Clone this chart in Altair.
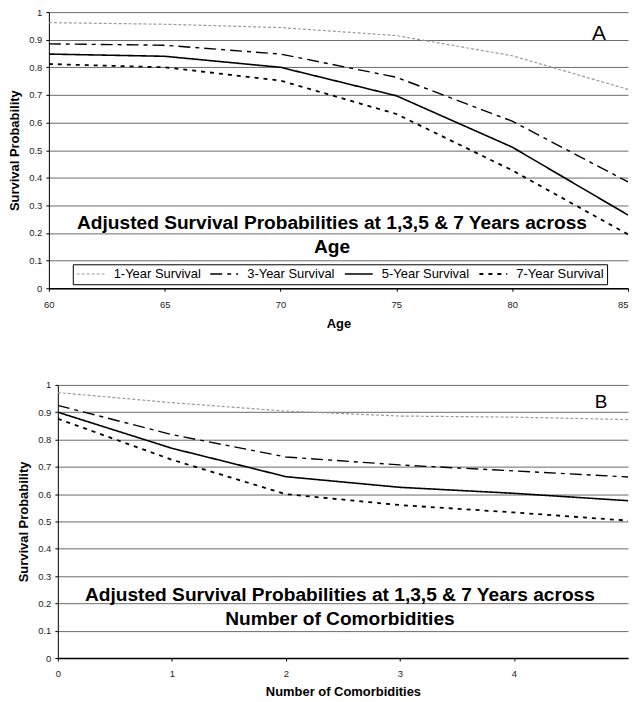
import altair as alt
import pandas as pd

series = ["1-Year Survival", "3-Year Survival", "5-Year Survival", "7-Year Survival"]

ages = [60, 65, 70, 75, 80, 85]
age_1yr = [0.962, 0.956, 0.944, 0.915, 0.842, 0.720]
age_3yr = [0.885, 0.880, 0.848, 0.764, 0.605, 0.385]
age_5yr = [0.848, 0.840, 0.800, 0.697, 0.511, 0.265]
age_7yr = [0.812, 0.800, 0.752, 0.631, 0.427, 0.195]

comorb = [0, 1, 2, 3, 4, 5]
com_1yr = [0.972, 0.935, 0.904, 0.886, 0.882, 0.873]
com_3yr = [0.925, 0.818, 0.736, 0.707, 0.685, 0.663]
com_5yr = [0.900, 0.768, 0.664, 0.625, 0.603, 0.576]
com_7yr = [0.876, 0.726, 0.600, 0.560, 0.533, 0.503]

y_ticks = [0, 0.1, 0.2, 0.3, 0.4, 0.5, 0.6, 0.7, 0.8, 0.9, 1]
age_ticks = [60, 65, 70, 75, 80, 85]
com_ticks = [0, 1, 2, 3, 4]

title_a = ["Adjusted Survival Probabilities at 1,3,5 & 7 Years across", "Age"]
title_b = ["Adjusted Survival Probabilities at 1,3,5 & 7 Years across", "Number of Comorbidities"]

colors = ["#9a9a9a", "#000000", "#000000", "#000000"]
dashes = [[3, 2], [12, 5, 4, 5], [1, 0], [4, 5]]
widths = [1.2, 1.8, 1.6, 2.0]

FONT = "Liberation Sans"


def long_df(xs, ys_list):
    rows = []
    for s, ys in zip(series, ys_list):
        for x, y in zip(xs, ys):
            rows.append({"x": x, "p": y, "series": s})
    return pd.DataFrame(rows)


df_a = long_df(ages, [age_1yr, age_3yr, age_5yr, age_7yr])
df_b = long_df(comorb, [com_1yr, com_3yr, com_5yr, com_7yr])


def panel(df, xtitle, xdomain, xticks, w, h, letter, letter_x, letter_y, letter_size,
          tlines, t_x, t_y1, t_y2, leg_y, x_title_pad):
    leg = alt.Legend(title=None, orient="none", legendX=24, legendY=leg_y,
                     direction="horizontal")
    last = xdomain[1]
    lines = alt.Chart(df).mark_line(clip=True).encode(
        x=alt.X("x:Q", scale=alt.Scale(domain=xdomain, nice=False, zero=False),
                axis=alt.Axis(values=xticks, title=xtitle, grid=False,
                              titlePadding=x_title_pad,
                              labelAlign={"condition": {"test": f"datum.value >= {last}",
                                                        "value": "right"},
                                          "value": "center"})),
        y=alt.Y("p:Q", scale=alt.Scale(domain=[0, 1], nice=False),
                axis=alt.Axis(values=y_ticks, format=".1~f",
                              title="Survival Probability", grid=True)),
        color=alt.Color("series:N", scale=alt.Scale(domain=series, range=colors),
                        legend=leg),
        strokeDash=alt.StrokeDash("series:N", scale=alt.Scale(domain=series, range=dashes),
                                  legend=leg),
        strokeWidth=alt.StrokeWidth("series:N", scale=alt.Scale(domain=series, range=widths),
                                    legend=None),
    )
    t1 = alt.Chart(pd.DataFrame({"t": [tlines[0]]})).mark_text(
        font=FONT, fontSize=19.2, fontWeight="bold", color="black", baseline="middle"
    ).encode(text="t:N", x=alt.value(t_x), y=alt.value(t_y1))
    t2 = alt.Chart(pd.DataFrame({"t": [tlines[1]]})).mark_text(
        font=FONT, fontSize=19.2, fontWeight="bold", color="black", baseline="middle"
    ).encode(text="t:N", x=alt.value(t_x), y=alt.value(t_y2))
    lt = alt.Chart(pd.DataFrame({"t": [letter]})).mark_text(
        font=FONT, fontSize=letter_size, color="black", baseline="alphabetic"
    ).encode(text="t:N", x=alt.value(letter_x), y=alt.value(letter_y))
    return alt.layer(lines, t1, t2, lt).properties(width=w, height=h)


pa = panel(df_a, "Age", [60, 85], age_ticks, 581, 277, "A", 552, 28, 21,
           title_a, 284, 212, 236, 253, 9)
pb = panel(df_b, "Number of Comorbidities", [0, 5], com_ticks, 572, 274, "B", 545, 23, 19,
           title_b, 283, 211, 235, 250, 7)

spacer = alt.Chart(pd.DataFrame({"s": [0]})).mark_point(opacity=0).encode(
    x=alt.value(0), y=alt.value(0)
).properties(width=9, height=274)

row_b = alt.hconcat(spacer, pb, spacing=0, bounds="flush")

chart = alt.vconcat(pa, row_b, spacing=49).properties(
    padding={"left": 0, "top": -2, "right": 0, "bottom": 0}
).configure_view(stroke=None).configure_axis(
    labelFont=FONT, titleFont=FONT, labelFontSize=9.5, labelColor="#222",
    titleFontSize=13, titleFontWeight="bold", titleColor="black",
    domainColor="black", tickColor="black", gridColor="#6a6a6a", gridWidth=1,
).configure_axisY(
    tickSize=3, labelPadding=4, titlePadding=7, domainWidth=1,
).configure_axisX(
    tickSize=3, labelPadding=8, domainWidth=1.5,
).configure_legend(
    labelFont=FONT, labelFontSize=13, labelColor="black",
    symbolType="M-2.5,0H2.5", symbolSize=125, symbolOffset=8.4,
    symbolStrokeWidth=1.7, labelOffset=16.6, columnPadding=6,
    strokeColor="black", fillColor="white", padding=3, cornerRadius=0,
    labelLimit=200,
)

chart.save("out.html", embed_options={"renderer": "svg", "actions": False})
